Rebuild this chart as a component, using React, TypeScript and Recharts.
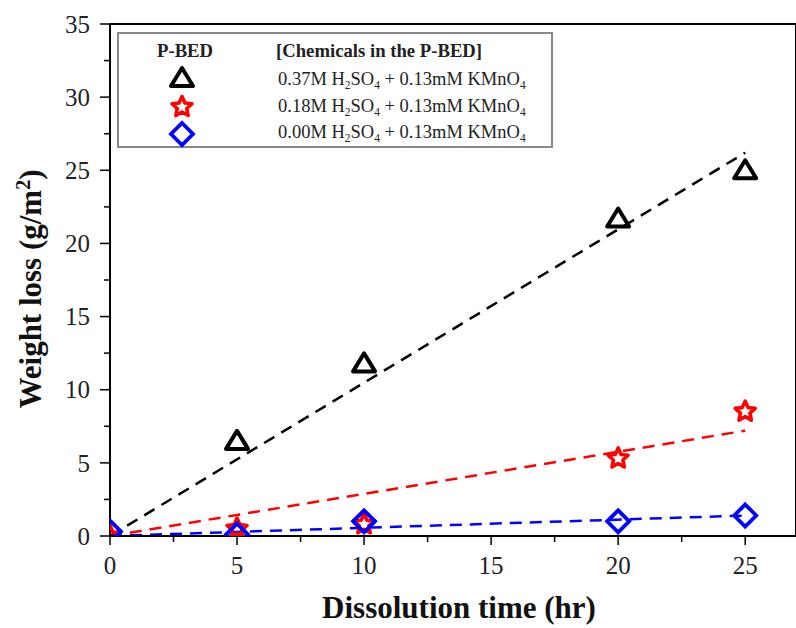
import React from 'react';
import { ComposedChart, XAxis, YAxis, Line, Scatter, ReferenceLine, Label } from 'recharts';

const X_MAX = 27;
const Y_MAX = 35;
const xTicks = [0, 2.5, 5, 7.5, 10, 12.5, 15, 17.5, 20, 22.5, 25];
const yTicks = [0, 2.5, 5, 7.5, 10, 12.5, 15, 17.5, 20, 22.5, 25, 27.5, 30, 32.5, 35];

// measured points
const timeTri = [5, 10, 20, 25];
const lossTri = [6.5, 11.8, 21.7, 25.0];
const timeStar = [0, 5, 10, 20, 25];
const lossStar = [0, 0.5, 0.8, 5.3, 8.5];
const timeDia = [0, 5, 10, 20, 25];
const lossDia = [0.3, 0.1, 1.0, 1.0, 1.4];

// linear fits (start / end)
const fitTime = [0, 25];
const fitTri = [0, 26.2];
const fitStar = [0, 7.2];
const fitDia = [0, 1.4];

const toPts = (xs: number[], ys: number[]) => ys.map((y, i) => ({ x: xs[i], y }));

const SERIF = '"Liberation Serif", "DejaVu Serif", serif';
const BLACK = '#000000';
const RED = '#ff0000';
const BLUE = '#0000ff';

// plot area inside the chart svg (margin top 24, y-axis width 110, x-axis height 92)
const PLOT = { x: 110, y: 24, w: 686, h: 512 };

const trianglePath = (cx: number, cy: number) =>
  `${cx},${cy - 10} ${cx + 11},${cy + 8} ${cx - 11},${cy + 8}`;
const diamondPath = (cx: number, cy: number) =>
  `${cx},${cy - 11} ${cx + 11},${cy} ${cx},${cy + 11} ${cx - 11},${cy}`;
const starPath = (cx: number, cy: number) => {
  const pts: string[] = [];
  for (let i = 0; i < 10; i++) {
    const r = i % 2 === 0 ? 10.5 : 5;
    const a = -Math.PI / 2 + (i * Math.PI) / 5;
    pts.push(`${cx + r * Math.cos(a)},${cy + r * Math.sin(a)}`);
  }
  return pts.join(' ');
};

const Marker = ({ kind, cx, cy }: { kind: string; cx: number; cy: number }) => {
  if (kind === 'tri')
    return <polygon points={trianglePath(cx, cy)} fill="none" stroke={BLACK} strokeWidth={4} strokeLinejoin="round" />;
  if (kind === 'star')
    return <polygon points={starPath(cx, cy)} fill="none" stroke={RED} strokeWidth={3.6} strokeLinejoin="round" />;
  return <polygon points={diamondPath(cx, cy)} fill="none" stroke={BLUE} strokeWidth={3.8} />;
};

// markers are clipped to the plot frame (nested svg hides overflow)
const clipped = (kind: string) => (p: any) => (
  <svg x={PLOT.x} y={PLOT.y} width={PLOT.w} height={PLOT.h} overflow="hidden">
    <Marker kind={kind} cx={p.cx - PLOT.x} cy={p.cy - PLOT.y} />
  </svg>
);
const TriShape = clipped('tri');
const StarShape = clipped('star');
const DiaShape = clipped('dia');

const XTick = ({ x, y, payload }: any) => {
  const major = payload.value % 5 === 0;
  return (
    <g>
      <line x1={x} x2={x} y1={y} y2={y + (major ? 9 : 6)} stroke={BLACK} strokeWidth={1.5} />
      {major && (
        <text x={x} y={y + 38} textAnchor="middle" fontSize={25} fontFamily={SERIF} fill="#222">
          {payload.value}
        </text>
      )}
    </g>
  );
};

const YTick = ({ x, y, payload }: any) => {
  const major = payload.value % 5 === 0;
  return (
    <g>
      <line x1={x} x2={x - (major ? 10 : 6)} y1={y} y2={y} stroke={BLACK} strokeWidth={1.5} />
      {major && (
        <text x={x - 20} y={y} dy="0.35em" textAnchor="end" fontSize={25} fontFamily={SERIF} fill="#222">
          {payload.value}
        </text>
      )}
    </g>
  );
};

const Sub = ({ children }: { children: React.ReactNode }) => (
  <sub style={{ fontSize: '0.62em', verticalAlign: '-0.35em', lineHeight: 0 }}>{children}</sub>
);

const rowText = (acid: string) => (
  <span>
    {acid}M H<Sub>2</Sub>SO<Sub>4</Sub> + 0.13mM KMnO<Sub>4</Sub>
  </span>
);

const legendRows = [
  { acid: '0.37', symY: 43, textY: 48, kind: 'tri' },
  { acid: '0.18', symY: 73, textY: 75, kind: 'star' },
  { acid: '0.00', symY: 100, textY: 101, kind: 'dia' },
];

const LegendSymbol = ({ kind }: { kind: string }) => (
  <svg width={30} height={30}>
    <Marker kind={kind} cx={15} cy={kind === 'tri' ? 16 : 15} />
  </svg>
);

export default function App() {
  return (
    <div style={{ position: 'fixed', left: 0, top: 0, width: 796, height: 628, background: '#fff' }}>
      <ComposedChart width={796} height={628} margin={{ top: 24, right: 0, bottom: 0, left: 0 }}>
        <XAxis
          type="number"
          dataKey="x"
          domain={[0, X_MAX]}
          ticks={xTicks}
          allowDataOverflow
          interval={0}
          tickSize={0}
          tickMargin={0}
          tickLine={false}
          tick={<XTick />}
          height={92}
          stroke={BLACK}
          strokeWidth={2}
        >
          <Label
            content={({ viewBox }: any) => (
              <text
                x={459}
                y={viewBox.y + 82}
                textAnchor="middle"
                fontSize={31}
                fontWeight="bold"
                fontFamily={SERIF}
                fill="#111"
              >
                Dissolution time (hr)
              </text>
            )}
          />
        </XAxis>
        <YAxis
          type="number"
          dataKey="y"
          domain={[0, Y_MAX]}
          ticks={yTicks}
          allowDataOverflow
          interval={0}
          tickSize={0}
          tickMargin={0}
          tickLine={false}
          tick={<YTick />}
          width={110}
          stroke={BLACK}
          strokeWidth={2}
        >
          <Label
            content={() => (
              <text
                x={30}
                y={289}
                transform="rotate(-90, 30, 289)"
                textAnchor="middle"
                dy="0.35em"
                fontSize={31}
                fontWeight="bold"
                fontFamily={SERIF}
                fill="#111"
              >
                Weight loss (g/m<tspan dy={-11} fontSize={20}>2</tspan>
                <tspan dy={11}>)</tspan>
              </text>
            )}
          />
        </YAxis>
        <ReferenceLine y={Y_MAX} stroke={BLACK} strokeWidth={2} />
        <ReferenceLine x={X_MAX} stroke={BLACK} strokeWidth={2} />

        <Line
          data={toPts(fitTime, fitTri)}
          dataKey="y"
          stroke={BLACK}
          strokeWidth={2.5}
          strokeDasharray="12 8"
          dot={false}
          activeDot={false}
          isAnimationActive={false}
        />
        <Line
          data={toPts(fitTime, fitStar)}
          dataKey="y"
          stroke={RED}
          strokeWidth={2.5}
          strokeDasharray="12 8"
          dot={false}
          activeDot={false}
          isAnimationActive={false}
        />
        <Line
          data={toPts(fitTime, fitDia)}
          dataKey="y"
          stroke={BLUE}
          strokeWidth={2.5}
          strokeDasharray="12 8"
          dot={false}
          activeDot={false}
          isAnimationActive={false}
        />

        <Scatter data={toPts(timeTri, lossTri)} dataKey="y" shape={TriShape} isAnimationActive={false} />
        <Scatter data={toPts(timeStar, lossStar)} dataKey="y" shape={StarShape} isAnimationActive={false} />
        <Scatter data={toPts(timeDia, lossDia)} dataKey="y" shape={DiaShape} isAnimationActive={false} />
      </ComposedChart>

      {/* Legend */}
      <div
        style={{
          position: 'absolute',
          left: 117,
          top: 32,
          width: 432,
          height: 112,
          border: '2px solid #888',
          background: '#fff',
          fontFamily: SERIF,
          color: '#222',
        }}
      >
        <div style={{ position: 'absolute', left: 38, top: 6, fontSize: 18.7, fontWeight: 'bold' }}>P-BED</div>
        <div style={{ position: 'absolute', left: 157, top: 6, fontSize: 18.7, fontWeight: 'bold' }}>
          [Chemicals in the P-BED]
        </div>
        {legendRows.map((r) => (
          <React.Fragment key={r.acid}>
            <div style={{ position: 'absolute', left: 48, top: r.symY - 15, width: 30, height: 30 }}>
              <LegendSymbol kind={r.kind} />
            </div>
            <div
              style={{ position: 'absolute', left: 159, top: r.textY - 13, fontSize: 18.5, whiteSpace: 'nowrap' }}
            >
              {rowText(r.acid)}
            </div>
          </React.Fragment>
        ))}
      </div>
    </div>
  );
}
